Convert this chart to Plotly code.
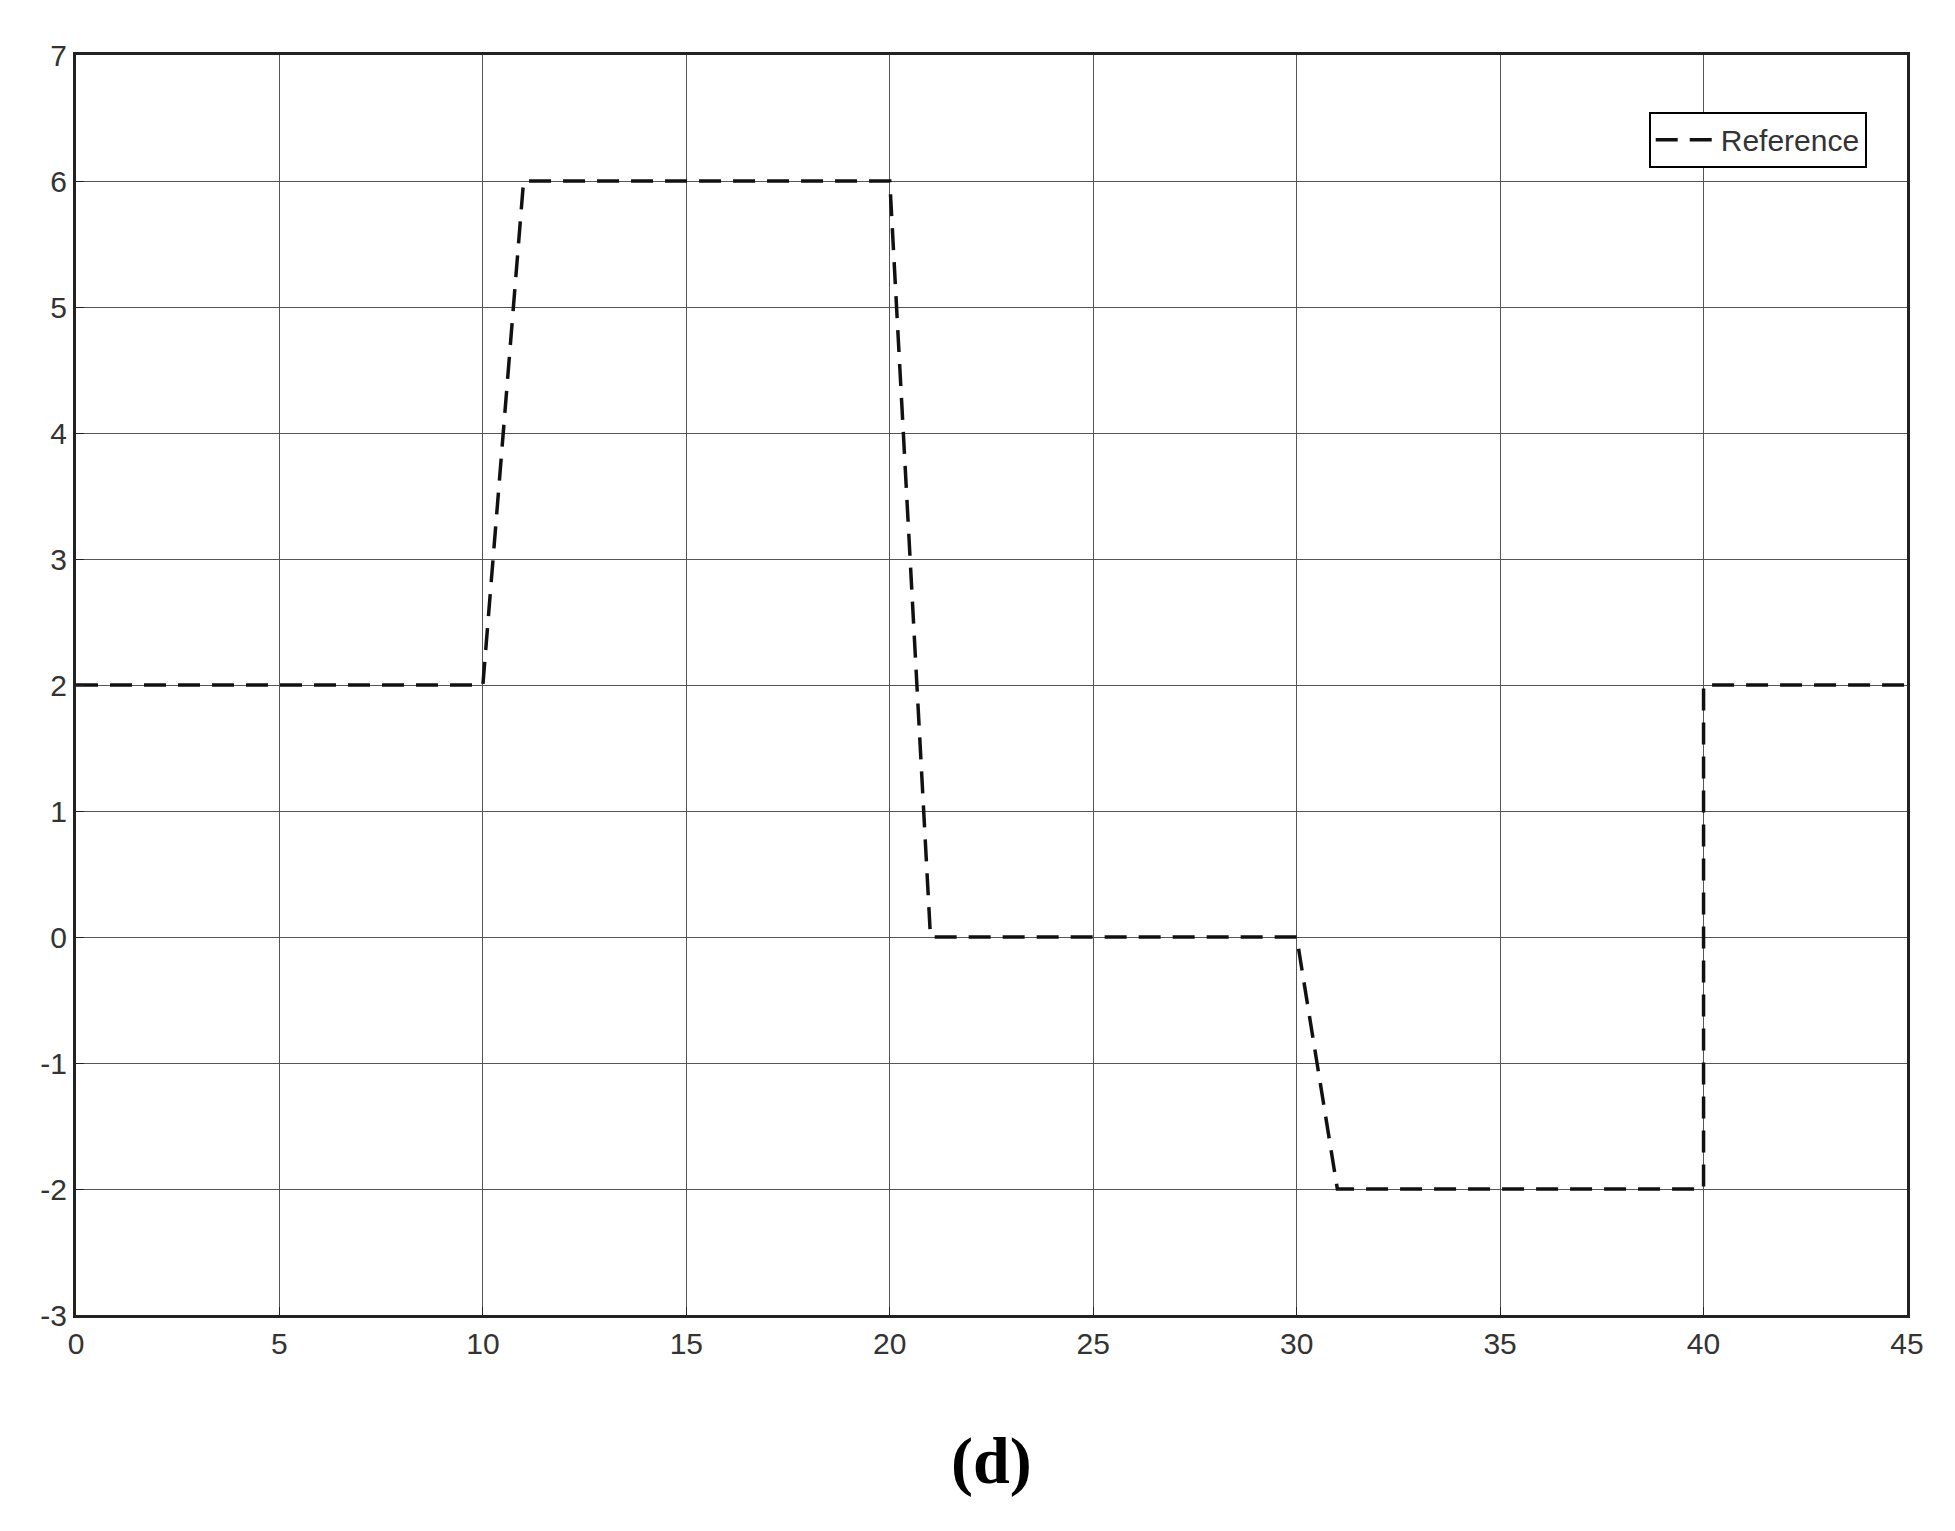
import plotly.graph_objects as go

t = [0, 10, 11, 20, 21, 30, 31, 40, 40, 45]
ref = [2, 2, 6, 6, 0, 0, -2, -2, 2, 2]
xticks = list(range(0, 46, 5))
yticks = list(range(-3, 8))
ytext = [str(v) for v in yticks]

fig = go.Figure()
fig.add_trace(go.Scatter(x=t, y=ref, mode="lines", name="Reference",
                         line=dict(color="#111", width=3.5, dash="22px,12px")))
ax = dict(showline=True, linecolor="#222", linewidth=3, mirror=True, ticks="inside",
          ticklen=8, tickcolor="#222", showgrid=True, gridcolor="#555", gridwidth=1,
          zeroline=False, tickfont=dict(family="Liberation Sans", size=30, color="#333"))
fig.update_xaxes(range=[0, 45], tickvals=xticks, **ax)
fig.update_yaxes(range=[-3, 7], tickvals=yticks, ticktext=ytext, **ax)
fig.update_layout(
    width=1955, height=1531, plot_bgcolor="white", paper_bgcolor="white",
    margin=dict(l=68, r=56, t=47, b=224),
    showlegend=True,
    legend=dict(x=0.978, y=0.955, xanchor="right", yanchor="top", bgcolor="white",
                bordercolor="black", borderwidth=2, itemwidth=60,
                font=dict(family="Liberation Sans", size=30, color="#333")),
    annotations=[dict(text="<b>(d)</b>", xref="paper", yref="paper", x=0.5, y=-0.085,
                      yanchor="top", showarrow=False,
                      font=dict(family="Liberation Serif", size=66, color="black"))],
)
fig.write_html("out.html")
